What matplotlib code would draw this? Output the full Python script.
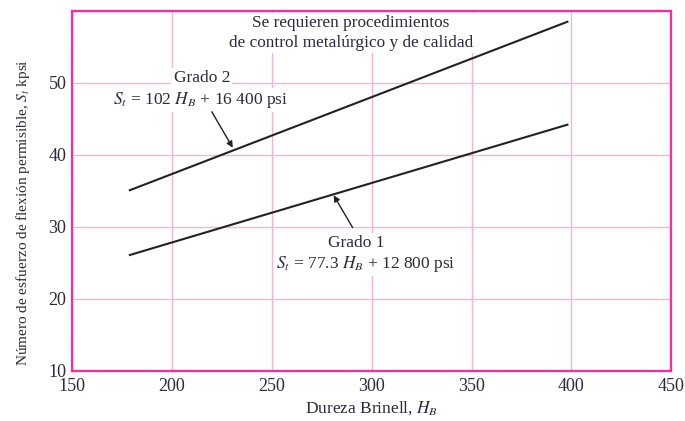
import numpy as np
import matplotlib
matplotlib.use("Agg")
import matplotlib.pyplot as plt

plt.rcParams['font.family'] = ['Liberation Serif', 'DejaVu Serif']
plt.rcParams['mathtext.fontset'] = 'stix'

# datos (HB, kpsi)
hb = [179, 398]
grado1 = [26.1, 44.2]
grado2 = [35.1, 58.5]

xticks = [150, 200, 250, 300, 350, 400, 450]
yticks = [10, 20, 30, 40, 50]

txt = '#2a2a3a'
frame = '#ff2a9a'
grid = '#f7b3d6'

fig = plt.figure(figsize=(6.85, 4.21), dpi=100)
ax = fig.add_axes([0.105, 0.119, 0.875, 0.855])

ax.plot(hb, grado2, color='#222222', lw=1.5)
ax.plot(hb, grado1, color='#222222', lw=1.5)

ax.set_xlim(150, 450)
ax.set_ylim(10, 60)
ax.set_xticks(xticks)
ax.set_yticks(yticks + [60])
ax.set_yticklabels([str(v) for v in yticks] + [''])
ax.grid(True, color=grid, lw=1.0)
ax.set_axisbelow(True)
for s in ax.spines.values():
    s.set_color(frame)
    s.set_linewidth(1.6)
ax.tick_params(length=0, labelsize=13, labelcolor=txt)
ax.tick_params(axis='x', pad=5)
ax.tick_params(axis='y', pad=4)
for lab in ax.get_yticklabels():
    lab.set_verticalalignment('center_baseline')

ax.set_xlabel("Dureza Brinell, $H_B$", fontsize=12.5, color=txt)
ax.xaxis.set_label_coords(0.5, -0.08)
ax.set_ylabel("Número de esfuerzo de flexión permisible, $S_t$ kpsi",
              fontsize=11, color=txt)
ax.yaxis.set_label_coords(-0.066, 0.44)

bb = dict(facecolor='white', edgecolor='none', pad=1.5)

ax.text(289.5, 56.9, "Se requieren procedimientos\nde control metalúrgico y de calidad",
        ha='center', va='center', fontsize=12.4, color=txt, linespacing=1.3, bbox=bb)

ax.text(215, 50.7, "Grado 2", ha='center', va='center', fontsize=12.5, color=txt, bbox=bb)
ax.text(214.5, 47.6, "$S_t$ = 102 $H_B$ + 16 400 psi", ha='center', va='center',
        fontsize=12.5, color=txt, bbox=bb)
ax.annotate("", xy=(230.5, 41.0), xytext=(220, 46.0),
            arrowprops=dict(arrowstyle='-|>', color='#222222', lw=1.0,
                            mutation_scale=9, shrinkA=0, shrinkB=0))

ax.text(292.5, 27.8, "Grado 1", ha='center', va='center', fontsize=12.5, color=txt, bbox=bb)
ax.text(297, 24.9, "$S_t$ = 77.3 $H_B$ + 12 800 psi", ha='center', va='center',
        fontsize=12.5, color=txt, bbox=bb)
ax.annotate("", xy=(281, 34.4), xytext=(290.5, 29.9),
            arrowprops=dict(arrowstyle='-|>', color='#222222', lw=1.0,
                            mutation_scale=9, shrinkA=0, shrinkB=0))

fig.savefig("out.png", dpi=100)
